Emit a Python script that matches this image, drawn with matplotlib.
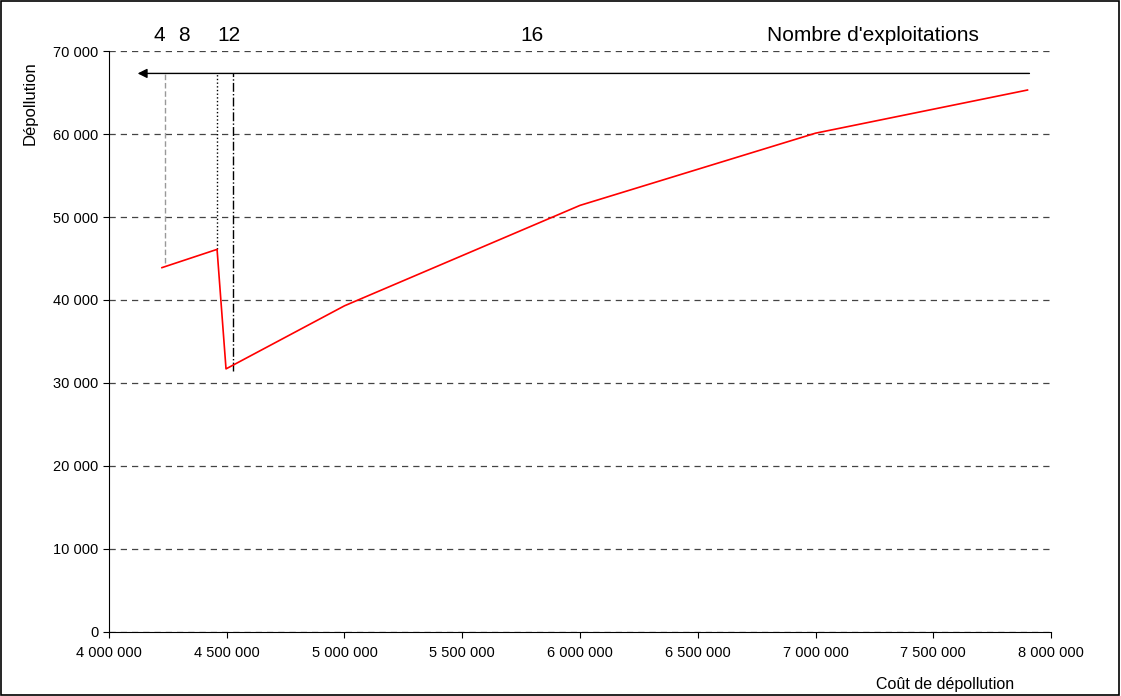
import numpy as np
import matplotlib.pyplot as plt
from matplotlib.ticker import FuncFormatter

plt.rcParams['font.family'] = ['Liberation Sans', 'DejaVu Sans']

# courbe cout / depollution
cout = [4225000, 4459000, 4497000, 5000000, 6000000, 7000000, 7900000]
depollution = [43900, 46100, 31700, 39300, 51400, 60100, 65300]

# reperes nombre d'exploitations
rep_x = [4240000, 4459000, 4525000]
rep_bas = [44500, 46100, 31500]
rep_style = [(0, (4, 2)), ':', '-.']
rep_coul = ['#999999', 'black', 'black']
nb_labels = ['4', '8', '12', '16']
nb_pos = [4212000, 4318000, 4510000, 5795000]
fleche_y = 67300

def fmt(v, pos):
    return '{:,.0f}'.format(v).replace(',', ' ')

fig = plt.figure(figsize=(11.21, 6.96), dpi=100)
ax = fig.add_axes([0.0972, 0.092, 0.8404, 0.8347])

ax.plot(cout, depollution, color='red', lw=1.2, zorder=3)

for x, b, ls, c in zip(rep_x, rep_bas, rep_style, rep_coul):
    ax.plot([x, x], [b, fleche_y], color=c, ls=ls, lw=1)

ax.annotate('', xy=(4110000, fleche_y), xytext=(7920000, fleche_y),
            arrowprops=dict(arrowstyle='-|>', color='black', lw=1, mutation_scale=14))

for t, x in zip(nb_labels, nb_pos):
    ax.text(x, 70700, t, fontsize=15, ha='center', va='bottom', clip_on=False)
ax.text(6795000, 70700, "Nombre d'exploitations", fontsize=15, ha='left', va='bottom', clip_on=False)

ax.set_xlim(4000000, 8000000)
ax.set_ylim(0, 70000)
ax.set_xticks(np.arange(4000000, 8000001, 500000))
ax.set_yticks(np.arange(0, 70001, 10000))
ax.xaxis.set_major_formatter(FuncFormatter(fmt))
ax.yaxis.set_major_formatter(FuncFormatter(fmt))
ax.tick_params(labelsize=10.5, direction='out', length=4)
ax.tick_params(axis='x', pad=6)
ax.yaxis.grid(True, ls=(0, (5, 4)), color='#444444', lw=0.9)
ax.spines['top'].set_visible(False)
ax.spines['right'].set_visible(False)

fig.text(0.027, 0.852, 'Dépollution', rotation=90, fontsize=12, ha='center', va='center')
fig.text(0.843, 0.016, 'Coût de dépollution', fontsize=11.5, ha='center', va='center')

fig.patches.append(plt.Rectangle((0.001, 0.001), 0.997, 0.997, transform=fig.transFigure,
                                 fill=False, edgecolor='black', lw=1.2))

fig.savefig('out.png', dpi=100)
